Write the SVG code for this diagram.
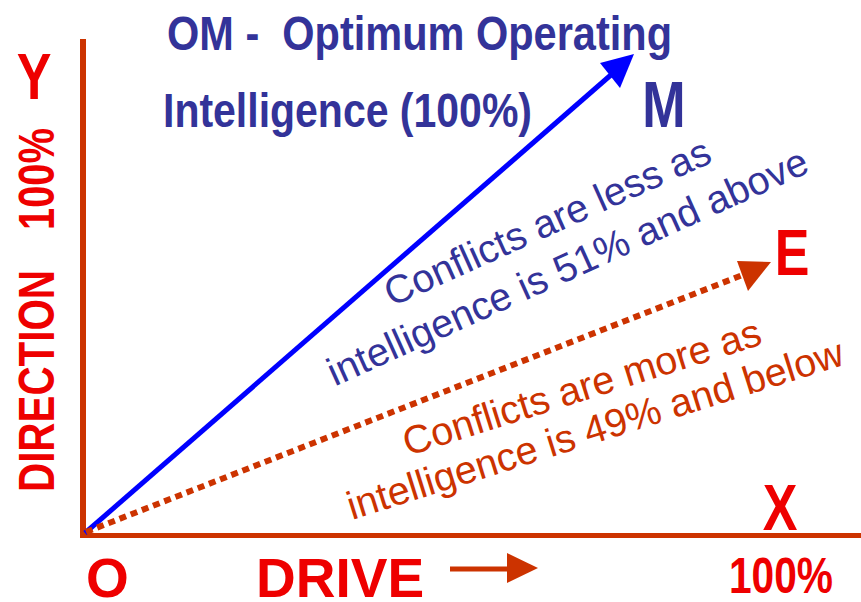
<svg xmlns="http://www.w3.org/2000/svg" width="861" height="602" viewBox="0 0 861 602">
<style>
.t{font-family:"Liberation Sans",Arial,sans-serif}
.b{font-weight:bold}
.red{fill:#ee0000}
.navy{fill:#333399}
.rust{fill:#cc3300}
.axis{stroke:#cc3300;fill:none}
</style>
<rect width="861" height="602" fill="#ffffff"/>
<g id="axes">
<line class="axis" x1="83" y1="39" x2="83" y2="538" stroke-width="6"/>
<line class="axis" x1="81" y1="535.5" x2="861" y2="535.5" stroke-width="5"/>
</g>
<g id="connectors">
<line x1="85" y1="533" x2="612" y2="74" stroke="#0000ff" stroke-width="5"/>
<polygon points="600,63 634,54 620,88" fill="#0000ff"/>
<line x1="86" y1="532" x2="745" y2="274" stroke="#cc3300" stroke-width="6" stroke-dasharray="7 5"/>
<polygon points="737,261 771,262 748,291" fill="#cc3300"/>
<line x1="450" y1="569" x2="508" y2="569" stroke="#cc3300" stroke-width="5"/>
<polygon points="507,553 538,568 507,583" fill="#cc3300"/>
</g>
<g id="title">
<text class="t b navy" x="167" y="50" font-size="49" textLength="505" lengthAdjust="spacingAndGlyphs" xml:space="preserve">OM -  Optimum Operating</text>
<text class="t b navy" x="163" y="127" font-size="49" textLength="369" lengthAdjust="spacingAndGlyphs">Intelligence (100%)</text>
</g>
<g id="node-M"><text class="t b navy" font-size="65" text-anchor="middle" transform="translate(664,127) scale(0.8,1)">M</text></g>
<g id="node-E"><text class="t b red" font-size="65" text-anchor="middle" transform="translate(792,275) scale(0.8,1)">E</text></g>
<g id="node-X"><text class="t b red" font-size="65" text-anchor="middle" transform="translate(780,530) scale(0.8,1)">X</text></g>
<g id="node-Y"><text class="t b red" font-size="65" text-anchor="middle" transform="translate(34,99) scale(0.8,1)">Y</text></g>
<g id="node-O"><text class="t b red" font-size="55" text-anchor="middle" x="107.5" y="597">O</text></g>
<g id="label-drive"><text class="t b red" font-size="55" x="256" y="597">DRIVE</text></g>
<g id="label-x100"><text class="t b red" font-size="50" x="729" y="593" textLength="104" lengthAdjust="spacingAndGlyphs">100%</text></g>
<g id="label-direction">
<text class="t b red" font-size="50" text-anchor="middle" transform="translate(54,381) rotate(-90)" textLength="222" lengthAdjust="spacingAndGlyphs">DIRECTION</text>
<text class="t b red" font-size="50" text-anchor="middle" transform="translate(54,179) rotate(-90)" textLength="102" lengthAdjust="spacingAndGlyphs">100%</text>
</g>
<g id="label-less" transform="translate(573,279) rotate(-24.3)">
<text class="t navy" font-size="39.5" text-anchor="middle" x="0" y="-49">Conflicts are less as</text>
<text class="t navy" font-size="39.5" text-anchor="middle" x="0" y="0">intelligence is 51% and above</text>
</g>
<g id="label-more" transform="translate(599,442) rotate(-17.5)">
<text class="t rust" font-size="39.5" text-anchor="middle" x="0" y="-44">Conflicts are more as</text>
<text class="t rust" font-size="39.5" text-anchor="middle" x="0" y="0">intelligence is 49% and below</text>
</g>
</svg>
